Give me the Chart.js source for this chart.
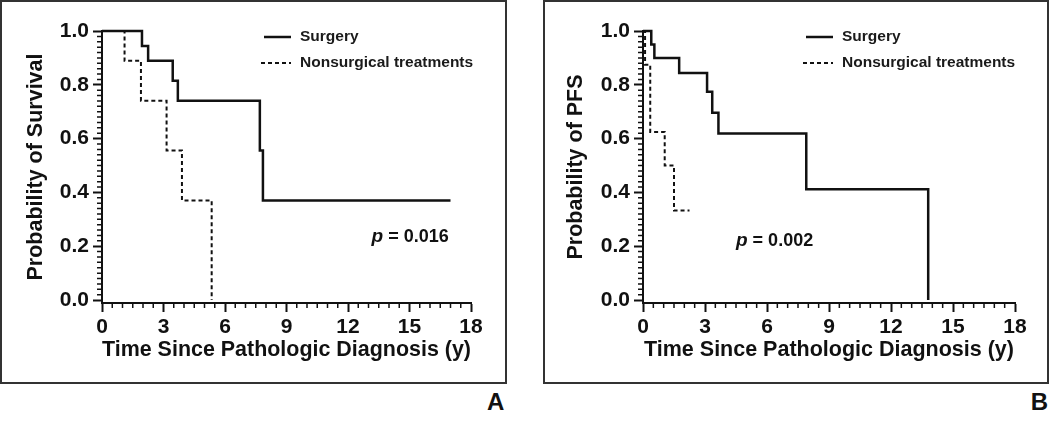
<!DOCTYPE html>
<html>
<head>
<meta charset="utf-8">
<title>Kaplan-Meier curves</title>
<script src="https://cdn.jsdelivr.net/npm/chart.js@4.4.0/dist/chart.umd.min.js"></script>
<style>
  body { margin: 0; background: #fff; width: 1050px; height: 430px; position: relative; overflow: hidden;
         font-family: "Liberation Sans", Arial, sans-serif; }
  canvas { position: absolute; top: 0; }
  .box { position: absolute; top: 0; height: 384px; border: 2px solid #333; box-sizing: border-box; pointer-events: none; }
  .tag { position: absolute; top: 390px; font-size: 24px; line-height: 1; font-weight: bold; color: #111; }
</style>
</head>
<body>
<canvas id="chartA" width="507" height="384" style="left:0"></canvas>
<canvas id="chartB" width="506" height="384" style="left:543px"></canvas>
<div class="box" style="left:0;width:507px"></div>
<div class="box" style="left:543px;width:506px"></div>
<div class="tag" style="left:487px">A</div>
<div class="tag" style="right:2px">B</div>

<script>
// ---- data ----
const seriesNames = ['Surgery', 'Nonsurgical treatments'];
const xTicks = [0, 3, 6, 9, 12, 15, 18];
const yTicks = [0, 0.2, 0.4, 0.6, 0.8, 1.0];

// A: overall survival
const survTimeSurg = [0, 1.95, 2.25, 3.45, 3.7, 7.7, 7.85, 17];
const survProbSurg = [1, 0.944, 0.889, 0.815, 0.741, 0.556, 0.370, 0.370];
const survTimeNon  = [0, 1.1, 1.9, 3.15, 3.9, 5.35];
const survProbNon  = [1, 0.889, 0.741, 0.556, 0.370, 0];

// B: progression-free survival
const pfsTimeSurg = [0, 0.4, 0.55, 1.75, 3.1, 3.35, 3.65, 7.9, 13.8];
const pfsProbSurg = [1, 0.95, 0.90, 0.844, 0.774, 0.696, 0.619, 0.412, 0];
const pfsTimeNon  = [0, 0.1, 0.35, 1.05, 1.5, 2.25];
const pfsProbNon  = [1, 0.875, 0.625, 0.5, 0.333, 0.333];

const ink = '#111';
const fontFamily = '"Liberation Sans", Arial, Helvetica, sans-serif';

function kmData(times, probs) {
  return times.map((t, i) => ({ x: t, y: probs[i] }));
}

// small ticks between the labelled ones
const minorTicks = {
  id: 'minorTicks',
  afterDraw(chart) {
    const ctx = chart.ctx, xs = chart.scales.x, ys = chart.scales.y;
    ctx.save();
    ctx.strokeStyle = ink;
    ctx.lineWidth = 1.5;
    ctx.beginPath();
    for (let i = 0; i <= 36; i++) {
      if (i % 6 === 0) continue;
      const px = xs.getPixelForValue(i * 0.5);
      ctx.moveTo(px, xs.top);
      ctx.lineTo(px, xs.top + 5);
    }
    for (let i = 0; i <= 50; i++) {
      if (i % 10 === 0) continue;
      const py = ys.getPixelForValue(i * 0.02);
      ctx.moveTo(ys.right, py);
      ctx.lineTo(ys.right - 5, py);
    }
    ctx.stroke();
    ctx.restore();
  }
};

// legend inside the plot, line samples + names
const kmLegend = {
  id: 'kmLegend',
  afterDraw(chart, args, opts) {
    const ctx = chart.ctx, area = chart.chartArea;
    const x0 = area.left + opts.offsetX, y0 = area.top + opts.offsetY;
    ctx.save();
    ctx.font = 'bold 15.5px ' + fontFamily;
    ctx.textBaseline = 'middle';
    ctx.fillStyle = '#1a1a1a';
    chart.data.datasets.forEach((ds, i) => {
      const y = y0 + i * 26;
      ctx.strokeStyle = ink;
      ctx.lineWidth = ds.borderWidth;
      ctx.setLineDash(ds.borderDash || []);
      ctx.beginPath();
      ctx.moveTo(x0 - (i ? 3 : 0), y);
      ctx.lineTo(x0 + 27, y);
      ctx.stroke();
      ctx.fillText(ds.label, x0 + 36, y);
    });
    ctx.restore();
  }
};

// p-value note
const pValue = {
  id: 'pValue',
  afterDraw(chart, args, opts) {
    const ctx = chart.ctx;
    const x = chart.scales.x.getPixelForValue(opts.x);
    const y = chart.scales.y.getPixelForValue(opts.y);
    ctx.save();
    ctx.fillStyle = ink;
    ctx.textBaseline = 'middle';
    ctx.font = 'italic bold 19px ' + fontFamily;
    ctx.fillText('p', x, y);
    const w = ctx.measureText('p').width;
    ctx.font = 'bold 18px ' + fontFamily;
    ctx.fillText(' = ' + opts.value, x + w, y);
    ctx.restore();
  }
};

function makeChart(id, o) {
  const ctx = document.getElementById(id);
  return new Chart(ctx, {
    type: 'line',
    data: {
      datasets: [{
        label: seriesNames[0],
        data: kmData(o.timeSurg, o.probSurg),
        borderColor: ink,
        borderWidth: 2.5,
        stepped: true,
        pointRadius: 0,
        fill: false,
        clip: 5
      }, {
        label: seriesNames[1],
        data: kmData(o.timeNon, o.probNon),
        borderColor: ink,
        borderWidth: 2,
        borderDash: [4, 3],
        stepped: true,
        pointRadius: 0,
        fill: false,
        clip: 5
      }]
    },
    options: {
      responsive: false,
      animation: false,
      events: [],
      layout: { padding: { left: 0, top: 31, right: o.rightPad, bottom: 0 } },
      plugins: {
        legend: { display: false },
        tooltip: { enabled: false },
        kmLegend: { offsetX: o.legendX, offsetY: 6 },
        pValue: { x: o.pX, y: o.pY, value: o.pText }
      },
      scales: {
        x: {
          type: 'linear',
          min: 0,
          max: 18,
          afterBuildTicks: s => { s.ticks = xTicks.map(v => ({ value: v })); },
          afterFit: s => { s.height = 81; },
          border: { color: ink, width: 2 },
          grid: { drawOnChartArea: false, tickLength: 9, tickWidth: 2, tickColor: ink },
          ticks: { color: ink, padding: 3, maxRotation: 0, autoSkip: false,
                   font: { family: fontFamily, size: 21, weight: 'bold' } },
          title: { display: true, text: 'Time Since Pathologic Diagnosis (y)', color: ink,
                   font: { family: fontFamily, size: 21.5, weight: 'bold', lineHeight: 1.2 },
                   padding: { top: 0, bottom: 21 } }
        },
        y: {
          type: 'linear',
          min: -0.011,
          max: 1,
          afterBuildTicks: s => { s.ticks = yTicks.map(v => ({ value: v })); },
          afterFit: s => { s.width = o.yWidth; },
          border: { color: ink, width: 2 },
          grid: { drawOnChartArea: false, tickLength: 9, tickWidth: 2, tickColor: ink },
          ticks: { color: ink, padding: 4, callback: v => v.toFixed(1),
                   font: { family: fontFamily, size: 21, weight: 'bold' } },
          title: { display: true, text: o.yTitle, color: ink,
                   font: { family: fontFamily, size: 21.5, weight: 'bold', lineHeight: 1.2 },
                   padding: { top: o.yTitlePad, bottom: 0 } }
        }
      }
    },
    plugins: [minorTicks, kmLegend, pValue]
  });
}

makeChart('chartA', {
  timeSurg: survTimeSurg, probSurg: survProbSurg,
  timeNon: survTimeNon, probNon: survProbNon,
  yTitle: 'Probability of Survival', yTitlePad: 23, yWidth: 102, rightPad: 36,
  legendX: 162, pX: 13.15, pY: 0.235, pText: '0.016'
});

makeChart('chartB', {
  timeSurg: pfsTimeSurg, probSurg: pfsProbSurg,
  timeNon: pfsTimeNon, probNon: pfsProbNon,
  yTitle: 'Probability of PFS', yTitlePad: 20, yWidth: 100, rightPad: 34,
  legendX: 163, pX: 4.5, pY: 0.22, pText: '0.002'
});
</script>
</body>
</html>
